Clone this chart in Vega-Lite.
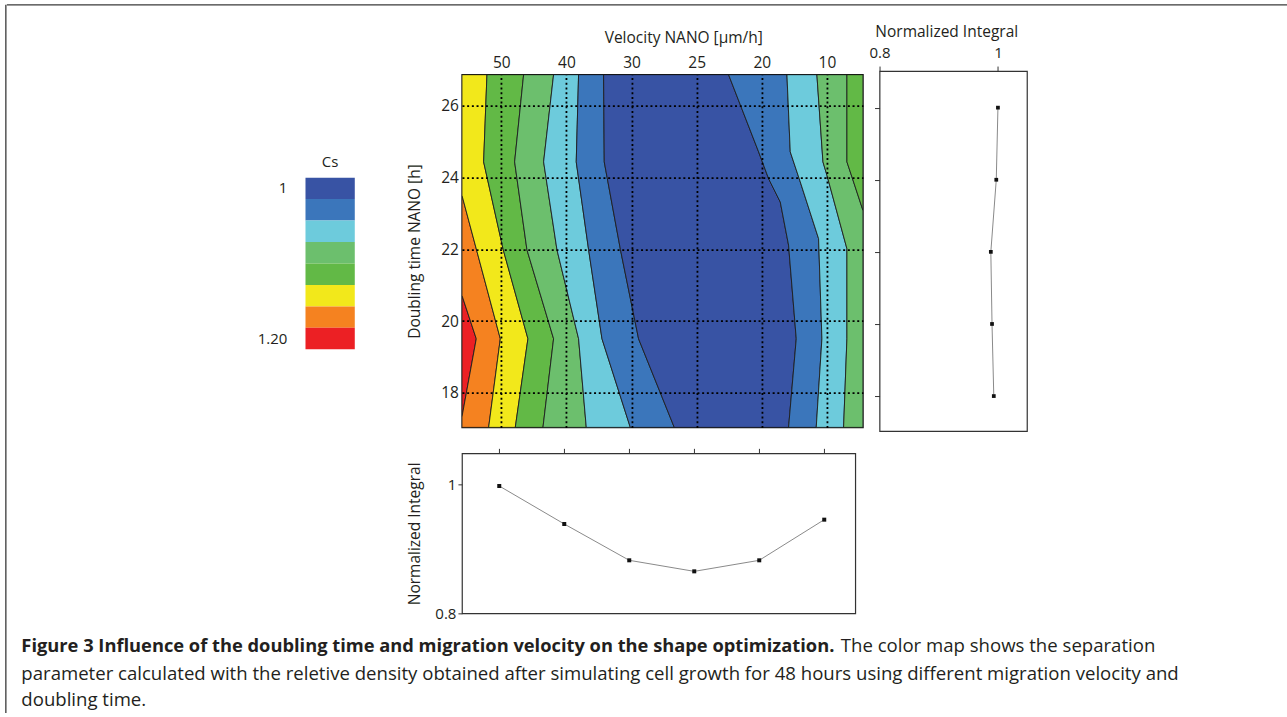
{
  "$schema": "https://vega.github.io/schema/vega-lite/v6.json",
  "padding": {"left": 5.35, "top": 4.35, "right": 0, "bottom": 0},
  "background": "white",
  "bounds": "flush",
  "spacing": 0,
  "datasets": {
    "bands": [
      {"b":1,"l":8,"i":0,"v":-0.604,"t":20.72},{"b":1,"l":8,"i":1,"v":-0.384,"t":19.51},{"b":1,"l":8,"i":2,"v":-0.604,"t":17.33},{"b":1,"l":8,"i":3,"v":-0.604,"t":20.72},
      {"b":2,"l":7,"i":0,"v":-0.604,"t":23.51},{"b":2,"l":7,"i":1,"v":-0.015,"t":19.51},{"b":2,"l":7,"i":2,"v":-0.194,"t":17.04},{"b":2,"l":7,"i":3,"v":-0.604,"t":17.04},{"b":2,"l":7,"i":4,"v":-0.604,"t":17.33},{"b":2,"l":7,"i":5,"v":-0.384,"t":19.51},{"b":2,"l":7,"i":6,"v":-0.604,"t":20.72},{"b":2,"l":7,"i":7,"v":-0.604,"t":23.51},
      {"b":3,"l":6,"i":0,"v":-0.604,"t":26.87},{"b":3,"l":6,"i":1,"v":-0.22,"t":26.87},{"b":3,"l":6,"i":2,"v":-0.271,"t":24.44},{"b":3,"l":6,"i":3,"v":0.03,"t":21.99},{"b":3,"l":6,"i":4,"v":0.409,"t":19.51},{"b":3,"l":6,"i":5,"v":0.215,"t":17.04},{"b":3,"l":6,"i":6,"v":-0.194,"t":17.04},{"b":3,"l":6,"i":7,"v":-0.015,"t":19.51},{"b":3,"l":6,"i":8,"v":-0.604,"t":23.51},{"b":3,"l":6,"i":9,"v":-0.604,"t":26.87},
      {"b":4,"l":5,"i":0,"v":-0.22,"t":26.87},{"b":4,"l":5,"i":1,"v":0.343,"t":26.87},{"b":4,"l":5,"i":2,"v":0.205,"t":24.44},{"b":4,"l":5,"i":3,"v":0.394,"t":21.99},{"b":4,"l":5,"i":4,"v":0.803,"t":19.51},{"b":4,"l":5,"i":5,"v":0.64,"t":17.04},{"b":4,"l":5,"i":6,"v":0.215,"t":17.04},{"b":4,"l":5,"i":7,"v":0.409,"t":19.51},{"b":4,"l":5,"i":8,"v":0.03,"t":21.99},{"b":4,"l":5,"i":9,"v":-0.271,"t":24.44},{"b":4,"l":5,"i":10,"v":-0.22,"t":26.87},
      {"b":5,"l":4,"i":0,"v":0.343,"t":26.87},{"b":5,"l":4,"i":1,"v":0.803,"t":26.87},{"b":5,"l":4,"i":2,"v":0.65,"t":24.44},{"b":5,"l":4,"i":3,"v":0.855,"t":21.99},{"b":5,"l":4,"i":4,"v":1.187,"t":19.51},{"b":5,"l":4,"i":5,"v":1.305,"t":17.04},{"b":5,"l":4,"i":6,"v":0.64,"t":17.04},{"b":5,"l":4,"i":7,"v":0.803,"t":19.51},{"b":5,"l":4,"i":8,"v":0.394,"t":21.99},{"b":5,"l":4,"i":9,"v":0.205,"t":24.44},{"b":5,"l":4,"i":10,"v":0.343,"t":26.87},
      {"b":6,"l":3,"i":0,"v":0.803,"t":26.87},{"b":6,"l":3,"i":1,"v":1.187,"t":26.87},{"b":6,"l":3,"i":2,"v":1.151,"t":24.44},{"b":6,"l":3,"i":3,"v":1.341,"t":21.99},{"b":6,"l":3,"i":4,"v":1.546,"t":19.51},{"b":6,"l":3,"i":5,"v":1.981,"t":17.04},{"b":6,"l":3,"i":6,"v":1.305,"t":17.04},{"b":6,"l":3,"i":7,"v":1.187,"t":19.51},{"b":6,"l":3,"i":8,"v":0.855,"t":21.99},{"b":6,"l":3,"i":9,"v":0.65,"t":24.44},{"b":6,"l":3,"i":10,"v":0.803,"t":26.87},
      {"b":7,"l":2,"i":0,"v":1.187,"t":26.87},{"b":7,"l":2,"i":1,"v":1.571,"t":26.87},{"b":7,"l":2,"i":2,"v":1.581,"t":24.44},{"b":7,"l":2,"i":3,"v":1.83,"t":21.99},{"b":7,"l":2,"i":4,"v":2.108,"t":19.51},{"b":7,"l":2,"i":5,"v":2.656,"t":17.04},{"b":7,"l":2,"i":6,"v":1.981,"t":17.04},{"b":7,"l":2,"i":7,"v":1.546,"t":19.51},{"b":7,"l":2,"i":8,"v":1.341,"t":21.99},{"b":7,"l":2,"i":9,"v":1.151,"t":24.44},{"b":7,"l":2,"i":10,"v":1.187,"t":26.87},
      {"b":8,"l":1,"i":0,"v":1.571,"t":26.87},{"b":8,"l":1,"i":1,"v":3.49,"t":26.87},{"b":8,"l":1,"i":2,"v":3.951,"t":24.72},{"b":8,"l":1,"i":3,"v":4.105,"t":23.97},{"b":8,"l":1,"i":4,"v":4.284,"t":23.32},{"b":8,"l":1,"i":5,"v":4.411,"t":22.12},{"b":8,"l":1,"i":6,"v":4.529,"t":19.51},{"b":8,"l":1,"i":7,"v":4.411,"t":17.04},{"b":8,"l":1,"i":8,"v":2.656,"t":17.04},{"b":8,"l":1,"i":9,"v":2.108,"t":19.51},{"b":8,"l":1,"i":10,"v":1.83,"t":21.99},{"b":8,"l":1,"i":11,"v":1.581,"t":24.44},{"b":8,"l":1,"i":12,"v":1.571,"t":26.87},
      {"b":9,"l":2,"i":0,"v":3.49,"t":26.87},{"b":9,"l":2,"i":1,"v":4.386,"t":26.87},{"b":9,"l":2,"i":2,"v":4.437,"t":24.72},{"b":9,"l":2,"i":3,"v":4.591,"t":23.88},{"b":9,"l":2,"i":4,"v":4.872,"t":22.3},{"b":9,"l":2,"i":5,"v":4.923,"t":19.51},{"b":9,"l":2,"i":6,"v":4.836,"t":17.04},{"b":9,"l":2,"i":7,"v":4.411,"t":17.04},{"b":9,"l":2,"i":8,"v":4.529,"t":19.51},{"b":9,"l":2,"i":9,"v":4.411,"t":22.12},{"b":9,"l":2,"i":10,"v":4.284,"t":23.32},{"b":9,"l":2,"i":11,"v":4.105,"t":23.97},{"b":9,"l":2,"i":12,"v":3.951,"t":24.72},{"b":9,"l":2,"i":13,"v":3.49,"t":26.87},
      {"b":10,"l":3,"i":0,"v":4.386,"t":26.87},{"b":10,"l":3,"i":1,"v":4.846,"t":26.87},{"b":10,"l":3,"i":2,"v":4.939,"t":24.44},{"b":10,"l":3,"i":3,"v":5.0,"t":24.07},{"b":10,"l":3,"i":4,"v":5.307,"t":22.02},{"b":10,"l":3,"i":5,"v":5.307,"t":19.51},{"b":10,"l":3,"i":6,"v":5.256,"t":17.04},{"b":10,"l":3,"i":7,"v":4.836,"t":17.04},{"b":10,"l":3,"i":8,"v":4.923,"t":19.51},{"b":10,"l":3,"i":9,"v":4.872,"t":22.3},{"b":10,"l":3,"i":10,"v":4.591,"t":23.88},{"b":10,"l":3,"i":11,"v":4.437,"t":24.72},{"b":10,"l":3,"i":12,"v":4.386,"t":26.87},
      {"b":11,"l":4,"i":0,"v":4.846,"t":26.87},{"b":11,"l":4,"i":1,"v":5.307,"t":26.87},{"b":11,"l":4,"i":2,"v":5.307,"t":24.44},{"b":11,"l":4,"i":3,"v":5.384,"t":24.02},{"b":11,"l":4,"i":4,"v":5.553,"t":23.09},{"b":11,"l":4,"i":5,"v":5.553,"t":17.04},{"b":11,"l":4,"i":6,"v":5.256,"t":17.04},{"b":11,"l":4,"i":7,"v":5.307,"t":19.51},{"b":11,"l":4,"i":8,"v":5.307,"t":22.02},{"b":11,"l":4,"i":9,"v":5.0,"t":24.07},{"b":11,"l":4,"i":10,"v":4.939,"t":24.44},{"b":11,"l":4,"i":11,"v":4.846,"t":26.87},
      {"b":12,"l":5,"i":0,"v":5.307,"t":26.87},{"b":12,"l":5,"i":1,"v":5.553,"t":26.87},{"b":12,"l":5,"i":2,"v":5.553,"t":23.09},{"b":12,"l":5,"i":3,"v":5.384,"t":24.02},{"b":12,"l":5,"i":4,"v":5.307,"t":24.44},{"b":12,"l":5,"i":5,"v":5.307,"t":26.87}
    ]
  },
  "hconcat": [
    {
      "width": 1,
      "height": 709,
      "data": {"values": [{"x": 0, "y": 0}]},
      "mark": {"type": "point", "opacity": 0, "size": 0},
      "encoding": {
        "y": {"field": "y", "type": "quantitative", "scale": {"domain": [0, 1]},
              "axis": {"orient": "left", "domain": true, "domainColor": "#3a3a3a", "domainWidth": 1.3, "labels": false, "ticks": false, "grid": false, "title": null}},
        "x": {"field": "x", "type": "quantitative", "scale": {"domain": [0, 1], "range": [0, 1281]},
              "axis": {"orient": "bottom", "domain": true, "domainColor": "#3a3a3a", "domainWidth": 1.3, "labels": false, "ticks": false, "grid": false, "title": null}}
      },
      "title": {
        "text": "Figure 3 Influence of the doubling time and migration velocity on the shape optimization.",
        "subtitle": ["parameter calculated with the reletive density obtained after simulating cell growth for 48 hours using different migration velocity and", "doubling time."],
        "orient": "bottom", "anchor": "start", "frame": "group",
        "offset": -75.4, "dx": 16, "limit": 1300,
        "font": "Open Sans", "fontSize": 18.3, "fontWeight": "bold", "color": "#231f20",
        "subtitleFont": "Open Sans", "subtitleFontSize": 18.6, "subtitleFontWeight": "normal", "subtitleColor": "#231f20",
        "subtitlePadding": 8.6, "subtitleLineHeight": 26.6
      }
    },
    {
      "bounds": "flush",
      "spacing": 65.7,
      "vconcat": [
        {
          "width": 1281,
          "height": 1,
          "data": {"values": [{"x": 0}]},
          "mark": {"type": "point", "opacity": 0, "size": 0},
          "encoding": {
            "x": {"field": "x", "type": "quantitative", "scale": {"domain": [0, 1]},
                  "axis": {"orient": "top", "domain": true, "domainColor": "#3a3a3a", "domainWidth": 1.3, "labels": false, "ticks": false, "grid": false, "title": null}}
          }
        },
        {
          "columns": 3,
          "bounds": "flush",
          "align": "each",
          "center": {"row": true, "column": true},
          "spacing": {"row": 22.3, "column": 16.6},
          "concat": [
            {
              "width": 438.1,
              "height": 214.6,
              "data": {"values": [{"l":1},{"l":2},{"l":3},{"l":4},{"l":5},{"l":6},{"l":7},{"l":8}]},
              "title": {"text": "Cs", "orient": "top", "anchor": "start", "align": "center", "dx": 323.35, "offset": -26.65, "font": "Open Sans", "fontSize": 15, "fontWeight": "normal", "color": "#231f20"},
              "mark": {"type": "rect"},
              "encoding": {
                "y": {"field": "l", "type": "ordinal", "scale": {"domain": [1,2,3,4,5,6,7,8], "paddingInner": 0, "paddingOuter": 1, "align": 0.79},
                      "axis": {"orient": "left", "offset": -281, "values": [1, 8], "labelExpr": "datum.value == 1 ? '1' : '1.20'", "ticks": false, "domain": false, "title": null, "labelPadding": 1, "labelFontSize": 15}},
                "x": {"datum": 0, "type": "quantitative", "scale": {"domain": [-6.059, 2.828], "nice": false, "zero": false}, "axis": null},
                "x2": {"datum": 1},
                "color": {"field": "l", "type": "ordinal", "scale": {"domain": [1,2,3,4,5,6,7,8], "range": ["#3853a4", "#3b76bb", "#6dcbdc", "#6cbf6d", "#62b946", "#f2e81b", "#f58220", "#ec2024"]}, "legend": null}
              }
            },
            {
              "width": 401,
              "height": 352.7,
              "view": {"stroke": "#111", "strokeWidth": 1.4},
              "data": {"name": "bands"},
              "mark": {"type": "line", "filled": true, "stroke": "#1e1e1e", "strokeWidth": 0.9, "strokeJoin": "round", "clip": true},
              "encoding": {
                "x": {"field": "v", "type": "quantitative", "scale": {"domain": [-0.604, 5.553], "nice": false, "zero": false},
                      "axis": {"orient": "top", "values": [0,1,2,3,4,5], "labelExpr": "['50','40','30','25','20','10'][datum.value]", "title": "Velocity NANO [μm/h]", "titleX": 221.3, "ticks": false, "domain": false, "grid": true, "gridColor": "#000", "gridDash": [2, 2.7], "gridWidth": 1.8, "gridOpacity": 1, "labelPadding": 4, "titlePadding": 10, "zindex": 1, "labelFlush": false, "labelOverlap": false}},
                "y": {"field": "t", "type": "quantitative", "scale": {"domain": [17.04, 26.87], "nice": false, "zero": false},
                      "axis": {"orient": "left", "values": [18,20,22,24,26], "title": "Doubling time NANO [h]", "ticks": false, "domain": false, "grid": true, "gridColor": "#000", "gridDash": [2, 2.7], "gridWidth": 1.8, "gridOpacity": 1, "labelPadding": 3.5, "titlePadding": 18.5, "zindex": 1}},
                "color": {"field": "l", "type": "ordinal", "scale": {"domain": [1,2,3,4,5,6,7,8], "range": ["#3853a4", "#3b76bb", "#6dcbdc", "#6cbf6d", "#62b946", "#f2e81b", "#f58220", "#ec2024"]}, "legend": null},
                "detail": {"field": "b", "type": "nominal"},
                "order": {"field": "i", "type": "quantitative"}
              }
            },
            {
              "width": 147.4,
              "height": 360,
              "view": {"stroke": "#333", "strokeWidth": 1.2},
              "data": {"values": [{"dt":18,"ni":0.993},{"dt":20,"ni":0.99},{"dt":22,"ni":0.988},{"dt":24,"ni":0.9972},{"dt":26,"ni":1.0}]},
              "encoding": {
                "x": {"field": "ni", "type": "quantitative", "scale": {"domain": [0.8, 1.049], "nice": false, "zero": false},
                      "axis": {"orient": "top", "values": [0.8, 1], "labelExpr": "datum.value == 1 ? '1' : '0.8'", "title": "Normalized Integral", "titleX": 66.7, "tickSize": 5, "domain": false, "grid": false, "labelPadding": 6, "titlePadding": 6, "labelFlush": false, "labelFontSize": 15}},
                "y": {"field": "dt", "type": "quantitative", "scale": {"domain": [17.03, 27.015], "nice": false, "zero": false},
                      "axis": {"orient": "left", "values": [18,20,22,24,26], "labels": false, "tickSize": 5, "domain": false, "grid": false, "title": null}}
              },
              "layer": [
                {"mark": {"type": "line", "color": "#8a8a8a", "strokeWidth": 1}, "encoding": {"order": {"field": "dt", "type": "quantitative"}}},
                {"mark": {"type": "square", "color": "#111", "size": 14, "opacity": 1, "filled": true}}
              ]
            },
            {
              "width": 438.1,
              "height": 160,
              "data": {"values": []},
              "mark": {"type": "point", "opacity": 0, "size": 0},
              "title": {"text": "The color map shows the separation", "orient": "bottom", "anchor": "start", "frame": "group", "dx": 834, "offset": 23.3, "limit": 1000, "font": "Open Sans", "fontSize": 18.6, "fontWeight": "normal", "color": "#231f20"}
            },
            {
              "width": 393.3,
              "height": 160,
              "view": {"stroke": "#333", "strokeWidth": 1.2},
              "data": {"values": [{"vi":0,"ni":0.9974},{"vi":1,"ni":0.9385},{"vi":2,"ni":0.8822},{"vi":3,"ni":0.8651},{"vi":4,"ni":0.8822},{"vi":5,"ni":0.9452}]},
              "encoding": {
                "x": {"field": "vi", "type": "quantitative", "scale": {"domain": [-0.574, 5.477], "nice": false, "zero": false},
                      "axis": {"orient": "top", "values": [0,1,2,3,4,5], "labels": false, "tickSize": 5, "domain": false, "grid": false, "title": null}},
                "y": {"field": "ni", "type": "quantitative", "scale": {"domain": [0.8, 1.048], "nice": false, "zero": false},
                      "axis": {"orient": "left", "values": [0.8, 1], "labelExpr": "datum.value == 1 ? '1' : '0.8'", "title": "Normalized Integral", "tickSize": 4, "labelPadding": 2, "domain": false, "grid": false, "titlePadding": 12, "labelFontSize": 15}}
              },
              "layer": [
                {"mark": {"type": "line", "color": "#8a8a8a", "strokeWidth": 1}},
                {"mark": {"type": "square", "color": "#111", "size": 16, "opacity": 1, "filled": true}}
              ]
            }
          ]
        }
      ]
    }
  ],
  "config": {
    "view": {"stroke": null},
    "font": "Open Sans",
    "axis": {"labelFont": "Open Sans", "titleFont": "Open Sans", "labelFontSize": 15.5, "titleFontSize": 15.5, "titleFontWeight": "normal", "labelColor": "#231f20", "titleColor": "#231f20", "tickColor": "#333", "tickWidth": 1},
    "title": {"font": "Open Sans"}
  }
}
